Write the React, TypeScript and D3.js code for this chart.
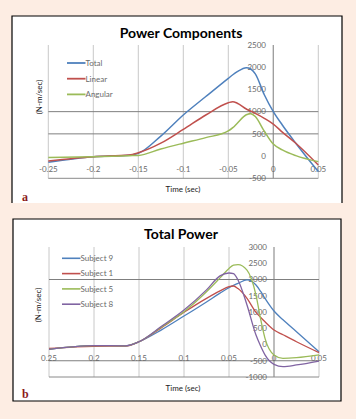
import React from "react";
import * as d3 from "d3";

// Panel a: Power Components
const timesA = [-0.25, -0.2, -0.16, -0.15, -0.125, -0.1, -0.075, -0.05, -0.045, -0.04, -0.03, -0.025, -0.02, -0.01, 0, 0.01, 0.025, 0.05];
const totalA = [-140, -15, 20, 60, 450, 925, 1340, 1750, 1830, 1900, 1990, 1960, 1850, 1380, 1000, 700, 290, -350];
const linearA = [-110, -15, 25, 75, 290, 600, 925, 1200, 1225, 1190, 1060, 1010, 960, 850, 720, 540, 290, -200];
const angularA = [-30, -15, 10, 15, 160, 290, 415, 565, 640, 740, 930, 955, 890, 560, 270, 140, 10, -125];

// Panel b: Total Power
const timesB = [-0.25, -0.2, -0.165, -0.15, -0.125, -0.1, -0.075, -0.06, -0.05, -0.045, -0.04, -0.03, -0.02, -0.015, -0.01, 0, 0.01, 0.025, 0.05];
const subj9 = [-150, -35, -40, 85, 450, 875, 1310, 1580, 1750, 1820, 1880, 1990, 1830, 1640, 1420, 1030, 760, 395, -220];
const subj1 = [-120, -55, -50, 85, 520, 990, 1420, 1650, 1780, 1800, 1720, 1420, 990, 840, 700, 445, 300, 85, -250];
const subj5 = [-150, -35, -40, 85, 540, 1010, 1625, 2050, 2340, 2440, 2460, 2290, 1520, 800, 190, -320, -425, -405, -320];
const subj8 = [-150, -35, -40, 85, 560, 1060, 1680, 2110, 2200, 2180, 1985, 1215, 290, -40, -320, -610, -680, -630, -510];

const ticksXA = [-0.25, -0.2, -0.15, -0.1, -0.05, 0, 0.05];
const tickLabelsXA = ["-0.25", "-0.2", "-0.15", "-0.1", "-0.05", "0", "0.05"];
const tickLabelsXB = ["0.25", "0.2", "0.15", "0.1", "0.05", "0", "0.05"];
const ticksYA = [2500, 2000, 1500, 1000, 500, 0, -500];
const ticksYB = [3000, 2500, 2000, 1500, 1000, 500, 0, -500, -1000];
const gridYA = [1000, 500];
const gridYB = [2000, -500];

const seriesA = [
  { name: "Total", values: totalA, color: "#4F81BD" },
  { name: "Linear", values: linearA, color: "#C0504D" },
  { name: "Angular", values: angularA, color: "#9BBB59" },
];
const seriesB = [
  { name: "Subject 9", values: subj9, color: "#4F81BD" },
  { name: "Subject 1", values: subj1, color: "#C0504D" },
  { name: "Subject 5", values: subj5, color: "#9BBB59" },
  { name: "Subject 8", values: subj8, color: "#8064A2" },
];

const FONT = "Lato, 'Open Sans', sans-serif";

type PanelProps = {
  title: string;
  letter: string;
  box: { x0: number; x1: number; y0: number; y1: number; bottom: boolean };
  xr: [number, number];
  yr: [number, number];
  yDomain: [number, number];
  times: number[];
  series: { name: string; values: number[]; color: string }[];
  yTicks: number[];
  gridY: number[];
  xLabels: string[];
  xLabelY: number;
  yLabelX: number;
  titleY: number;
  legendX: number;
  legendY0: number;
  legendDy: number;
  yTitle: [number, number];
  xTitleY: number;
  letterY: number;
  sw: number;
};

function Panel(p: PanelProps) {
  const x = d3.scaleLinear().domain([-0.25, 0.05]).range(p.xr);
  const y = d3.scaleLinear().domain(p.yDomain).range(p.yr);
  const line = d3
    .line<number>()
    .x((_, i) => x(p.times[i]))
    .y((v) => y(v))
    .curve(d3.curveMonotoneX);
  const { x0, x1, y0, y1 } = p.box;
  return (
    <g>
      <rect x={x0} y={y0} width={x1 - x0} height={y1 - y0} fill="#fff" />
      <path
        d={
          p.box.bottom
            ? `M${x0},${y1}V${y0}H${x1}V${y1}Z`
            : `M${x0},${y1}V${y0}H${x1}V${y1}`
        }
        fill="none"
        stroke="#000"
        strokeWidth={1.2}
      />
      {ticksXA.map((t, i) => (
        <line key={"vx" + i} x1={x(t)} x2={x(t)} y1={p.yr[1]} y2={p.yr[0]} stroke={t === 0 ? "#9a9a9a" : "#c8c8c8"} strokeWidth={t === 0 ? 1.3 : 1} />
      ))}
      {p.gridY.map((g, i) => (
        <line key={"gy" + i} x1={p.xr[0]} x2={p.xr[1]} y1={y(g)} y2={y(g)} stroke="#7f7f7f" strokeWidth={1} />
      ))}
      <line x1={p.xr[0]} x2={p.xr[1]} y1={p.yr[0]} y2={p.yr[0]} stroke="#8a8a8a" strokeWidth={1} />
      {p.yTicks.map((t, i) => (
        <text key={"yt" + i} x={p.yLabelX} y={y(t)} dy="0.35em" textAnchor="end" fontSize={8} fill="#6a6a6a" fontFamily={FONT}>
          {t}
        </text>
      ))}
      {ticksXA.map((t, i) => (
        <text key={"xt" + i} x={x(t)} y={p.xLabelY} dy="0.35em" textAnchor="middle" fontSize={8} fill="#6a6a6a" fontFamily={FONT}>
          {p.xLabels[i]}
        </text>
      ))}
      {p.series.map((s) => (
        <path key={s.name} d={line(s.values) || ""} fill="none" stroke={s.color} strokeWidth={p.sw} />
      ))}
      {p.series.map((s, i) => (
        <g key={"lg" + s.name}>
          <line x1={p.legendX} x2={p.legendX + 18.5} y1={p.legendY0 + i * p.legendDy} y2={p.legendY0 + i * p.legendDy} stroke={s.color} strokeWidth={p.sw + 0.3} />
          <text x={p.legendX + 18.5} y={p.legendY0 + i * p.legendDy} dy="0.35em" fontSize={8} fill="#6a6a6a" fontFamily={FONT}>
            {s.name}
          </text>
        </g>
      ))}
      <text x={181} y={p.titleY} textAnchor="middle" fontSize={14} fontWeight="bold" fill="#000" fontFamily={FONT}>
        {p.title}
      </text>
      <text transform={`translate(${p.yTitle[0]},${p.yTitle[1]}) rotate(-90)`} textAnchor="middle" dy="0.35em" fontSize={8} fill="#222" fontFamily={FONT}>
        (N-m/sec)
      </text>
      <text x={183} y={p.xTitleY} dy="0.35em" textAnchor="middle" fontSize={8} fill="#222" fontFamily={FONT}>
        Time (sec)
      </text>
      <text x={22} y={p.letterY} fontSize={12} fontWeight="bold" fill="#8B1A1A" fontFamily="'Liberation Serif', 'DejaVu Serif', serif">
        {p.letter}
      </text>
    </g>
  );
}

export default function App() {
  return (
    <svg width={356} height={419} style={{ position: "absolute", left: 0, top: 0 }}>
      <rect width={356} height={419} fill="#FDEDE3" />
      <Panel
        title="Power Components"
        letter="a"
        box={{ x0: 12, x1: 342, y0: 16, y1: 203, bottom: false }}
        xr={[48.3, 318.3]}
        yr={[178.3, 45]}
        yDomain={[-500, 2500]}
        times={timesA}
        series={seriesA}
        yTicks={ticksYA}
        gridY={gridYA}
        xLabels={tickLabelsXA}
        xLabelY={169.3}
        yLabelX={266}
        titleY={37.5}
        legendX={67}
        legendY0={63}
        legendDy={15.7}
        yTitle={[39, 97]}
        xTitleY={189}
        letterY={201}
        sw={1.5}
      />
      <Panel
        title="Total Power"
        letter="b"
        box={{ x0: 13, x1: 341, y0: 219, y1: 401, bottom: true }}
        xr={[49, 319]}
        yr={[377, 247]}
        yDomain={[-1000, 3000]}
        times={timesB}
        series={seriesB}
        yTicks={ticksYB}
        gridY={gridYB}
        xLabels={tickLabelsXB}
        xLabelY={358.3}
        yLabelX={267}
        titleY={238.5}
        legendX={62}
        legendY0={258.3}
        legendDy={15.3}
        yTitle={[38, 305]}
        xTitleY={388}
        letterY={398}
        sw={1.3}
      />
    </svg>
  );
}
